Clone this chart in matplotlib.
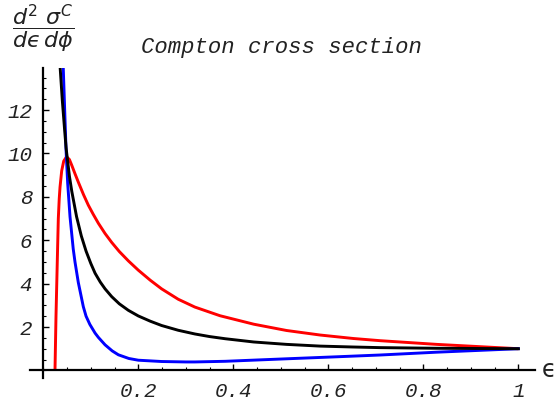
import matplotlib
matplotlib.use("Agg")
import matplotlib.pyplot as plt
from matplotlib.ticker import FixedLocator, MultipleLocator

# Data
black_eps = [0.0355, 0.040, 0.045, 0.048, 0.055, 0.060, 0.070, 0.080, 0.090, 0.100, 0.109, 0.120,
             0.130, 0.144, 0.160, 0.179, 0.200, 0.225, 0.249, 0.284, 0.319, 0.350, 0.383, 0.443,
             0.512, 0.583, 0.650, 0.709, 0.828, 1.0]
black_val = [13.95, 12.45, 11.05, 10.25, 8.95, 8.25, 7.09, 6.20, 5.50, 4.93, 4.48, 4.07,
             3.76, 3.40, 3.07, 2.77, 2.51, 2.27, 2.07, 1.85, 1.68, 1.56, 1.46, 1.31,
             1.20, 1.12, 1.08, 1.05, 1.02, 1.0]

red_eps = [0.0246, 0.0267, 0.0295, 0.0316, 0.0335, 0.0352, 0.0387, 0.043, 0.049, 0.055, 0.060,
           0.067, 0.0737, 0.0847, 0.0947, 0.105, 0.116, 0.130, 0.144, 0.160, 0.179, 0.200,
           0.225, 0.249, 0.284, 0.319, 0.372, 0.443, 0.512, 0.583, 0.653, 0.709, 0.828, 1.0]
red_val = [0.0, 2.48, 5.09, 7.0, 7.9, 8.45, 9.2, 9.65, 9.85, 9.72, 9.45,
           9.05, 8.68, 8.10, 7.62, 7.20, 6.78, 6.31, 5.90, 5.48, 5.05, 4.62,
           4.16, 3.76, 3.28, 2.92, 2.52, 2.13, 1.84, 1.63, 1.47, 1.37, 1.20, 1.0]

blue_eps = [0.042, 0.045, 0.048, 0.0513, 0.0562, 0.063, 0.0667, 0.0737, 0.0842, 0.090, 0.098,
            0.109, 0.116, 0.130, 0.145, 0.158, 0.180, 0.200, 0.249, 0.300, 0.319, 0.383,
            0.450, 0.540, 0.620, 0.709, 0.828, 1.0]
blue_val = [13.95, 12.0, 10.1, 8.63, 7.09, 5.6, 5.0, 4.05, 2.94, 2.5, 2.12,
            1.72, 1.52, 1.18, 0.90, 0.72, 0.55, 0.47, 0.41, 0.39, 0.39, 0.42,
            0.48, 0.56, 0.63, 0.71, 0.84, 1.0]

x_ticks = [0.2, 0.4, 0.6, 0.8, 1.0]
x_tick_labels = ["0.2", "0.4", "0.6", "0.8", "1"]
y_ticks = [2, 4, 6, 8, 10, 12]
y_tick_labels = ["2", "4", "6", "8", "10", "12"]

W, H = 558, 405
fig = plt.figure(figsize=(W / 100, H / 100), dpi=100)
plt.rcParams['mathtext.fontset'] = 'dejavusans'

left_px, right_px, top_px, bot_px = 30, 535, 68, 378
ax = fig.add_axes([left_px / W, 1 - bot_px / H, (right_px - left_px) / W, (bot_px - top_px) / H])
ax.set_xlim(-0.028, 1.035)
ax.set_ylim(-0.35, 13.94)

lw = 2.1
ax.plot(red_eps, red_val, color=(1, 0, 0), lw=lw, solid_capstyle='butt')
ax.plot(blue_eps, blue_val, color=(0, 0, 1), lw=lw)
ax.plot(black_eps, black_val, color='black', lw=lw)

for s in ['top', 'right']:
    ax.spines[s].set_visible(False)
ax.spines['left'].set_position(('data', 0))
ax.spines['bottom'].set_position(('data', 0))
ax.spines['left'].set_linewidth(1.6)
ax.spines['bottom'].set_linewidth(1.6)
ax.patch.set_visible(False)

ax.xaxis.set_major_locator(FixedLocator(x_ticks))
ax.xaxis.set_minor_locator(MultipleLocator(0.05))
ax.set_xticklabels(x_tick_labels)
ax.yaxis.set_major_locator(FixedLocator(y_ticks))
ax.yaxis.set_minor_locator(MultipleLocator(0.5))
ax.set_yticklabels(y_tick_labels)

ax.tick_params(which='major', direction='in', length=4, width=1.0, pad=8)
ax.tick_params(which='minor', direction='in', length=2.5, width=0.8)
for lab in ax.get_xticklabels() + ax.get_yticklabels():
    lab.set_fontfamily('Liberation Mono')
    lab.set_fontstyle('italic')
    lab.set_fontsize(15)
    lab.set_color('#222222')

fig.text(281 / W, 1 - 47 / H, "Compton cross section", ha='center', va='center',
         family='Liberation Mono', style='italic', fontsize=16, color='#222222')
fig.text(43 / W, 1 - 29 / H, '$\\dfrac{d^2\\ \\sigma^C}{d\u03f5\\, d\\phi}$', ha='center', va='center',
         fontsize=16, color='#222222')
fig.text(549 / W, 1 - 370 / H, '\u03f5', ha='center', va='center', fontsize=17,
         family='DejaVu Sans', color='#222222')

fig.savefig("out.png", dpi=100)
